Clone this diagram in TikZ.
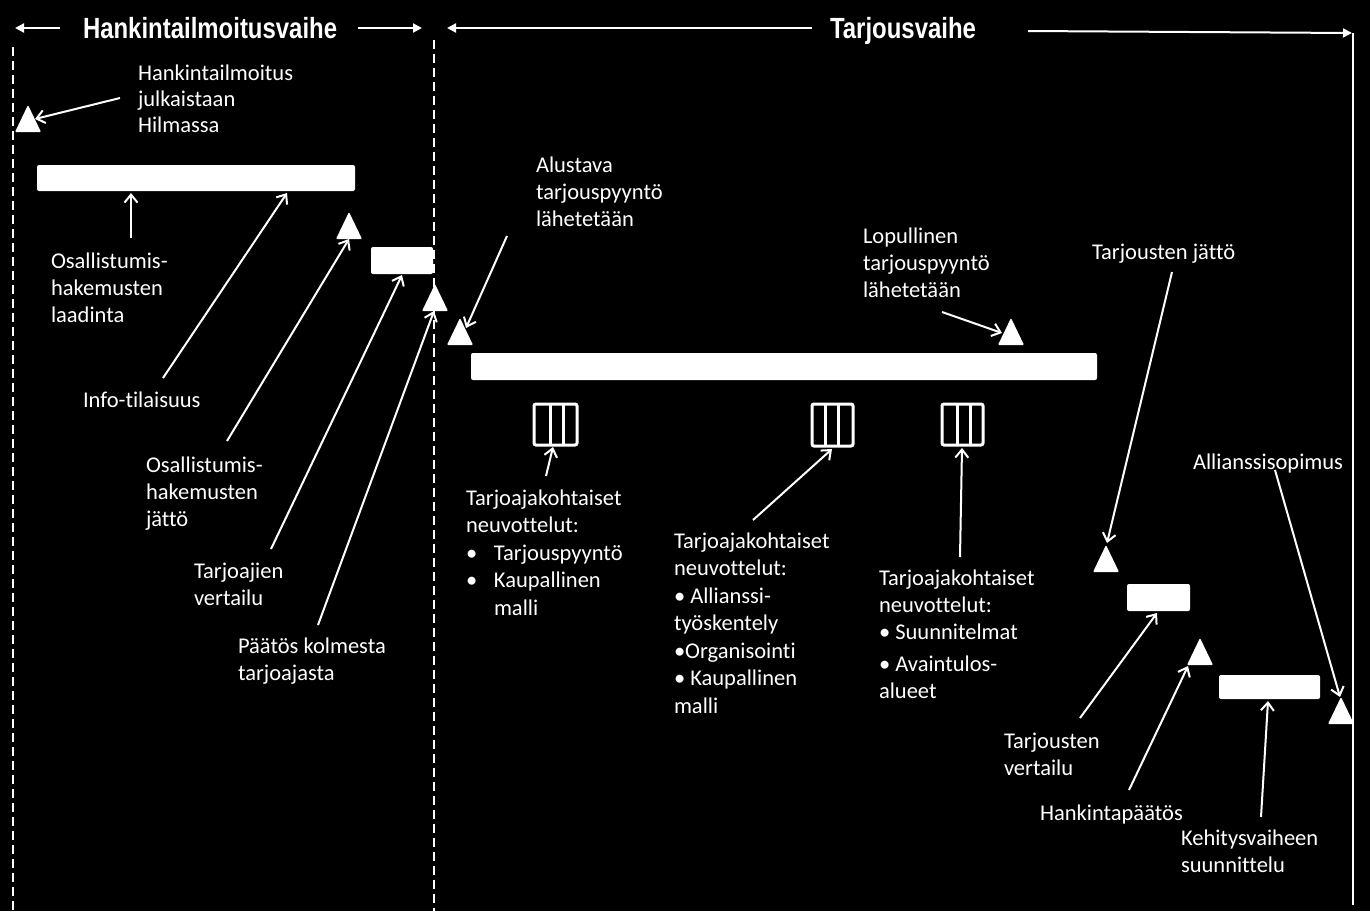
\documentclass[tikz,border=0pt]{standalone}
\usepackage{fontspec}
\setmainfont[Ligatures=NoCommon]{Carlito}
\newfontfamily\titlefont[FakeStretch=0.82]{Liberation Sans}
\usetikzlibrary{arrows.meta}
\newcommand\bodyfont{\fontsize{22.5}{27}\selectfont}
\newcommand\mlines[1]{\begin{tabular}[t]{@{}l@{}}#1\end{tabular}}
\newcommand\bul{\makebox[28pt][l]{•}}
\newcommand\tritop[3]{%
  \fill[white,rounded corners=1pt] (#1-13,#2+27) -- (#1+13,#2+27) -- (#1,#2) -- cycle;
  \coordinate (#3) at (#1,#2+13.5);}
\newcommand\triple[7]{% x1 x2 y1 y2 d1 d2 name
  \draw[multi] (#1,#3) rectangle (#2,#4);
  \draw[white,line width=3pt] (#5,#3) -- (#5,#4) (#6,#3) -- (#6,#4);
  \coordinate (#7) at ({(#1+#2)/2},{(#3+#4)/2});}
\begin{document}
\begin{tikzpicture}[x=1pt,y=-1pt,line width=2pt,white,
  lbl/.style={anchor=base west,inner sep=0pt,text=white,font=\bodyfont},
  ttl/.style={inner sep=0pt,text=white,font=\titlefont\bfseries\fontsize{29.2}{31}\selectfont},
  bar/.style={fill=white,rounded corners=2pt,inner sep=0pt},
  con/.style={draw=white,line width=2pt,-{Straight Barb[length=8pt,width=13pt]}},
  phase/.style={draw=white,line width=2pt,-{Triangle[length=9pt,width=9pt]}},
  sep/.style={draw=white,line width=2pt,dash pattern=on 9pt off 5pt},
  multi/.style={draw=white,line width=3pt,rounded corners=2pt}]
\fill[black] (0,0) rectangle (1370,911);
\useasboundingbox (0,0) rectangle (1370,911);

% phase separators
\draw[sep] (13,47) -- (13,911);
\draw[sep] (434,40) -- (434,911);
\draw[white,line width=2pt] (1353,33) -- (1353,905);

% titles
\node[ttl,anchor=base west] (h1) at (82,38.5) {Hankintailmoitusvaihe};
\node[ttl,anchor=base] (h2) at (903,38.5) {Tarjousvaihe};
\coordinate (h1a) at (60,28); \coordinate (h1b) at (15,28);
\coordinate (h1c) at (358,28); \coordinate (h1d) at (422,28);
\coordinate (h2a) at (812,28); \coordinate (h2b) at (447,28);
\coordinate (h2c) at (1028,31); \coordinate (h2d) at (1352,33);
\draw[phase] (h1a) -- (h1b);
\draw[phase] (h1c) -- (h1d);
\draw[phase] (h2a) -- (h2b);
\draw[phase] (h2c) -- (h2d);

% bars
\node[bar,minimum width=318pt,minimum height=26pt] (b1) at (196,178) {};
\node[bar,minimum width=62pt,minimum height=27pt] (b2) at (402,260.5) {};
\node[bar,minimum width=626pt,minimum height=27pt] (b3) at (784,366.5) {};
\node[bar,minimum width=63pt,minimum height=27pt] (b4) at (1158.5,597.5) {};
\node[bar,minimum width=101pt,minimum height=24pt] (b5) at (1269.5,687) {};

% triangles
\tritop{28}{105}{t1}
\tritop{349}{212}{t2}
\tritop{435}{284}{t3}
\tritop{460}{318}{t4}
\tritop{1011}{318}{t5}
\tritop{1106}{545}{t6}
\tritop{1200}{638}{t7}
\tritop{1341}{697}{t8}

% negotiation boxes
\triple{534}{577}{404}{445}{550}{563}{m1}
\triple{812}{853}{404}{446}{825}{838}{m2}
\triple{942}{983}{404}{445}{957}{970}{m3}

% labels
\node[lbl] (n1) at (137,80) {\mlines{Hankintailmoitus\\[-1pt]julkaistaan\\[-1pt]Hilmassa}};
\node[lbl] (n2) at (50,268) {\mlines{Osallistumis-\\hakemusten\\laadinta}};
\node[lbl] (n3) at (82,407) {Info-tilaisuus};
\node[lbl] (n4) at (145,472) {\mlines{Osallistumis-\\hakemusten\\jättö}};
\node[lbl] (n5) at (193,578) {\mlines{Tarjoajien\\vertailu}};
\node[lbl] (n6) at (237,653) {\mlines{Päätös kolmesta\\tarjoajasta}};
\node[lbl] (n7) at (535,172) {\mlines{Alustava\\tarjouspyyntö\\lähetetään}};
\node[lbl] (n8) at (862,243) {\mlines{Lopullinen\\tarjouspyyntö\\lähetetään}};
\node[lbl] (n9) at (465,505) {\mlines{Tarjoajakohtaiset\\[0.5pt]neuvottelut:\\[0.5pt]\bul Tarjouspyyntö\\[0.5pt]\bul Kaupallinen\\[0.5pt]\hspace*{28pt}malli}};
\node[lbl] (n10) at (673,548) {\mlines{Tarjoajakohtaiset\\[0.5pt]neuvottelut:\\[0.5pt]• Allianssi-\\[0.5pt]työskentely\\[0.5pt]•Organisointi\\[0.5pt]• Kaupallinen\\[0.5pt]malli}};
\node[lbl] (n11) at (878,585) {\mlines{Tarjoajakohtaiset\\neuvottelut:\\• Suunnitelmat\\[5pt]• Avaintulos-\\alueet}};
\node[lbl] (n12) at (1091,259) {Tarjousten jättö};
\node[lbl] (n13) at (1192,469) {Allianssisopimus};
\node[lbl] (n14) at (1003,748) {\mlines{Tarjousten\\vertailu}};
\node[lbl] (n15) at (1039,820) {Hankintapäätös};
\node[lbl] (n16) at (1180,845) {\mlines{Kehitysvaiheen\\suunnittelu}};

% connector ends
\coordinate (s1) at (120,98);   \coordinate (e1) at (35,119);
\coordinate (s2) at (131,238);  \coordinate (e2) at (131,193);
\coordinate (s3) at (163,378);  \coordinate (e3) at (287,193);
\coordinate (s4) at (227,441);  \coordinate (e4) at (349,239);
\coordinate (s5) at (271,549);  \coordinate (e5) at (402,275);
\coordinate (s6) at (318,625);  \coordinate (e6) at (434,311);
\coordinate (s7) at (507,236);  \coordinate (e7) at (466,328);
\coordinate (s8) at (942,312);  \coordinate (e8) at (1002,333);
\coordinate (s9) at (546,476);  \coordinate (e9) at (553,447);
\coordinate (s10) at (753,520); \coordinate (e10) at (832,449);
\coordinate (s11) at (960,557); \coordinate (e11) at (962,448);
\coordinate (s12) at (1172,272);\coordinate (e12) at (1107,543);
\coordinate (s13) at (1080,718);\coordinate (e13) at (1157,613);
\coordinate (s14) at (1129,790);\coordinate (e14) at (1188,666);
\coordinate (s15) at (1261,817);\coordinate (e15) at (1268,701);
\coordinate (s16) at (1275,470);\coordinate (e16) at (1340,697);

\foreach \i in {1,...,16} {\draw[con] (s\i) -- (e\i);}
\end{tikzpicture}
\end{document}
